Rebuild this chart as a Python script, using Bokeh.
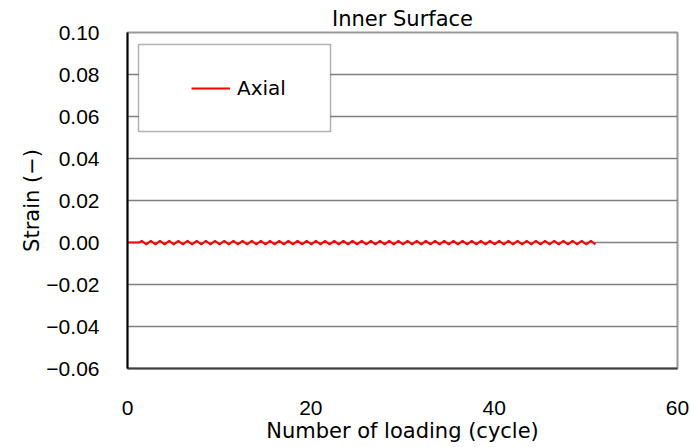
from bokeh.plotting import figure
from bokeh.models import Legend, LegendItem, BoxAnnotation, FixedTicker
from bokeh.embed import file_html
from bokeh.resources import INLINE

# ---- data ----
cycle = [0.0, 1.3,
         1.55, 2.05, 2.55, 3.05, 3.55, 4.05, 4.55, 5.05, 5.55, 6.05,
         6.55, 7.05, 7.55, 8.05, 8.55, 9.05, 9.55, 10.05, 10.55, 11.05,
         11.55, 12.05, 12.55, 13.05, 13.55, 14.05, 14.55, 15.05, 15.55, 16.05,
         16.55, 17.05, 17.55, 18.05, 18.55, 19.05, 19.55, 20.05, 20.55, 21.05,
         21.55, 22.05, 22.55, 23.05, 23.55, 24.05, 24.55, 25.05, 25.55, 26.05,
         26.55, 27.05, 27.55, 28.05, 28.55, 29.05, 29.55, 30.05, 30.55, 31.05,
         31.55, 32.05, 32.55, 33.05, 33.55, 34.05, 34.55, 35.05, 35.55, 36.05,
         36.55, 37.05, 37.55, 38.05, 38.55, 39.05, 39.55, 40.05, 40.55, 41.05,
         41.55, 42.05, 42.55, 43.05, 43.55, 44.05, 44.55, 45.05, 45.55, 46.05,
         46.55, 47.05, 47.55, 48.05, 48.55, 49.05, 49.55, 50.05, 50.55, 51.05]
axial = [0.0, 0.0,
         0.0008, -0.0010, 0.0008, -0.0010, 0.0008, -0.0010, 0.0008, -0.0010, 0.0008, -0.0010,
         0.0008, -0.0010, 0.0008, -0.0010, 0.0008, -0.0010, 0.0008, -0.0010, 0.0008, -0.0010,
         0.0008, -0.0010, 0.0008, -0.0010, 0.0008, -0.0010, 0.0008, -0.0010, 0.0008, -0.0010,
         0.0008, -0.0010, 0.0008, -0.0010, 0.0008, -0.0010, 0.0008, -0.0010, 0.0008, -0.0010,
         0.0008, -0.0010, 0.0008, -0.0010, 0.0008, -0.0010, 0.0008, -0.0010, 0.0008, -0.0010,
         0.0008, -0.0010, 0.0008, -0.0010, 0.0008, -0.0010, 0.0008, -0.0010, 0.0008, -0.0010,
         0.0008, -0.0010, 0.0008, -0.0010, 0.0008, -0.0010, 0.0008, -0.0010, 0.0008, -0.0010,
         0.0008, -0.0010, 0.0008, -0.0010, 0.0008, -0.0010, 0.0008, -0.0010, 0.0008, -0.0010,
         0.0008, -0.0010, 0.0008, -0.0010, 0.0008, -0.0010, 0.0008, -0.0010, 0.0008, -0.0010,
         0.0008, -0.0010, 0.0008, -0.0010, 0.0008, -0.0010, 0.0008, -0.0010, 0.0008, -0.0010]

x_ticks = [0, 20, 40, 60]
y_ticks = [-0.06, -0.04, -0.02, 0.0, 0.02, 0.04, 0.06, 0.08, 0.10]
y_tick_labels = ["\u22120.06", "\u22120.04", "\u22120.02", "0.00", "0.02", "0.04", "0.06", "0.08", "0.10"]

LABEL_FONT = "DejaVu Sans"
TICK_FONT = "Liberation Sans"

p = figure(width=691, height=447, x_range=(0, 60), y_range=(-0.06, 0.10),
           output_backend="svg", toolbar_location=None,
           min_border_left=127, min_border_right=14, min_border_top=32, min_border_bottom=79)

p.title.text = "Inner Surface"
p.title.align = "center"
p.title.text_font = LABEL_FONT
p.title.text_font_size = "21px"
p.title.text_font_style = "normal"
p.title.text_color = "black"
p.title.standoff = 4

p.xaxis.ticker = FixedTicker(ticks=x_ticks)
p.yaxis.ticker = FixedTicker(ticks=y_ticks)
p.yaxis.major_label_overrides = {t: l for t, l in zip(y_ticks, y_tick_labels)}

for ax in (p.xaxis[0], p.yaxis[0]):
    ax.major_tick_line_color = None
    ax.minor_tick_line_color = None
    ax.major_tick_in = 0
    ax.major_tick_out = 0
    ax.minor_tick_in = 0
    ax.minor_tick_out = 0
    ax.major_label_text_font = TICK_FONT
    ax.major_label_text_font_size = "21px"
    ax.major_label_text_color = "black"
    ax.axis_label_text_font = LABEL_FONT
    ax.axis_label_text_font_size = "21px"
    ax.axis_label_text_font_style = "normal"
    ax.axis_label_text_color = "black"
    ax.axis_line_width = 2

p.xaxis.axis_label = "Number of loading (cycle)"
p.xaxis.axis_line_color = "#404040"
p.xaxis.major_label_standoff = 32
p.xaxis.axis_label_standoff = 1

p.yaxis.axis_label = "Strain (\u2212)"
p.yaxis.axis_line_color = "black"
p.yaxis.major_label_standoff = 28
p.yaxis.axis_label_standoff = -1

p.xgrid.grid_line_color = None
p.ygrid.grid_line_color = "#808080"
p.ygrid.grid_line_width = 1.5
p.outline_line_color = "#999999"
p.outline_line_width = 2

r = p.line(cycle, axial, line_color="#FF0000", line_width=2)

box = BoxAnnotation(left=1.2, right=22.15, bottom=0.0529, top=0.0943,
                    fill_color="white", fill_alpha=1.0, line_color="black", line_width=1.5)
p.add_layout(box)

legend = Legend(items=[LegendItem(label="Axial", renderers=[r])],
                location=(64, 268), padding=0, margin=0,
                border_line_alpha=0, background_fill_alpha=0,
                glyph_width=39, glyph_height=20, label_height=20, label_standoff=7,
                label_text_font=LABEL_FONT, label_text_font_size="20px",
                label_text_color="black")
p.add_layout(legend, "center")

open("out.html", "w").write(file_html(p, INLINE))
